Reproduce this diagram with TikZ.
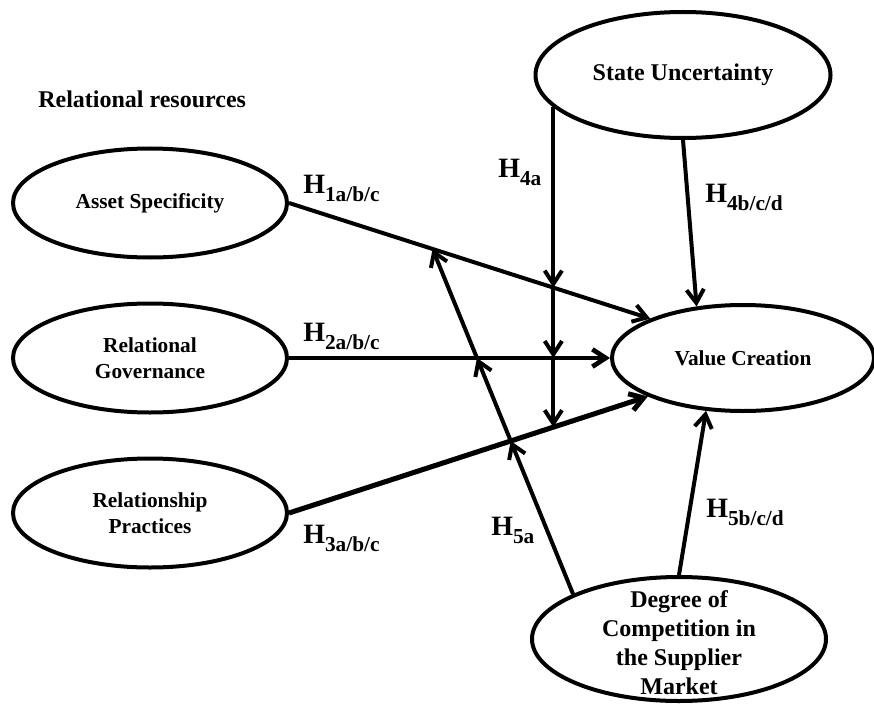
\documentclass[tikz,border=0pt]{standalone}
\usepackage{fontspec}
\setmainfont{Liberation Serif}
\usetikzlibrary{shapes.geometric,arrows.meta,intersections,calc}
\newcommand\Hlab[1]{{\fontsize{21}{21}\selectfont H}\raisebox{-6pt}{\fontsize{16}{16}\selectfont #1}}
\begin{document}
\begin{tikzpicture}[x=0.75pt,y=-0.75pt,
  ell/.style={draw, ellipse, line width=3pt, inner sep=0pt, align=center,
    font=\fontsize{16}{19.5}\selectfont\bfseries},
  bigtext/.style={font=\fontsize{18}{21.75}\selectfont\bfseries, align=center, inner sep=0pt},
  link/.style={line width=3pt, -{Straight Barb[length=10pt,width=13pt]}},
  hlab/.style={anchor=base west, inner sep=0pt, font=\bfseries}]
\useasboundingbox (0,0) rectangle (874,706);

% ellipses
\node[ell, minimum width=221.25pt, minimum height=94.5pt] (SU) at (683,75) {};
\node[bigtext] (SUt) at (683,75) {State Uncertainty};
\node[ell, minimum width=205.5pt, minimum height=81.75pt] (AS) at (150,203) {Asset Specificity};
\node[ell, minimum width=205.5pt, minimum height=81.75pt] (RG) at (150,358) {Relational\\Governance};
\node[ell, minimum width=205.5pt, minimum height=81.75pt] (RP) at (150,513) {Relationship\\Practices};
\node[ell, minimum width=196.5pt, minimum height=79.5pt] (VC) at (743,358) {Value Creation};
\node[ell, minimum width=220.5pt, minimum height=93pt] (DC) at (679,639) {};
\node[bigtext] (DCt) at (679,643) {Degree of\\Competition in\\the Supplier\\Market};

\node[bigtext, anchor=base west] (RR) at (38,108) {Relational resources};

% helper paths
\path[name path=p1] (AS.east) -- (VC.157.7);
\path[name path=p2] (RG.east) -- (VC.west);
\path[name path=p3] (RP.east) -- (VC.202.3);
\coordinate (h4s) at (SU.194.6);
\path[name path=p4] (h4s) -- ++(0,400);
\coordinate (h5s) at (DC.157.5);
\path[name path=p5] (h5s) -- ($(h5s)!1.15!(433,250)$);
\path[name intersections={of=p4 and p1, by=x41}];
\path[name intersections={of=p4 and p2, by=x42}];
\path[name intersections={of=p4 and p3, by=x43}];
\path[name intersections={of=p5 and p1, by=x51}];
\path[name intersections={of=p5 and p2, by=x52}];
\path[name intersections={of=p5 and p3, by=x53}];

% main connectors
\draw[link] (AS.east) -- (VC.157.7);
\draw[link, line width=3.5pt] (RG.east) -- (VC.west);
\draw[link, line width=3.8pt] (RP.east) -- (VC.202.3);
\draw[link] (SU.south) -- (VC.132);
\draw[link] (DC.north) -- (VC.235.5);

% moderator H4a
\draw[link] (h4s) -- (x41);
\draw[link] (x41) -- (x42);
\draw[link] (x42) -- (x43);

% moderator H5a
\draw[link] (h5s) -- (x53);
\draw[link] (x53) -- (x52);
\draw[link] (x52) -- (x51);

% labels
\node[hlab] (L1) at (303,193) {\Hlab{1a/b/c}};
\node[hlab] (L2) at (303,341) {\Hlab{2a/b/c}};
\node[hlab] (L3) at (303,543) {\Hlab{3a/b/c}};
\node[hlab] (L4a) at (498,177) {\Hlab{4a}};
\node[hlab] (L4b) at (705,202) {\Hlab{4b/c/d}};
\node[hlab] (L5a) at (491,535) {\Hlab{5a}};
\node[hlab] (L5b) at (706,517) {\Hlab{5b/c/d}};
\end{tikzpicture}
\end{document}
